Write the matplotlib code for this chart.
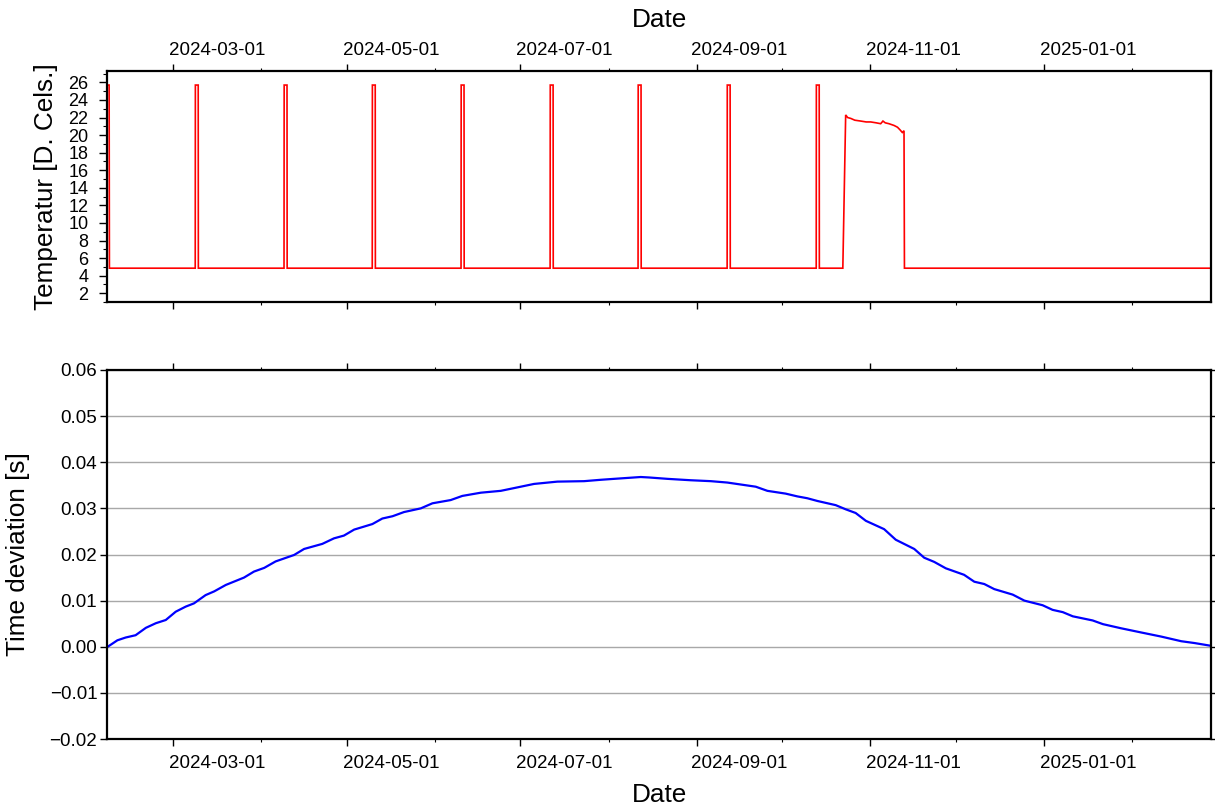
import matplotlib
matplotlib.use('Agg')
import matplotlib.pyplot as plt
import matplotlib.dates as mdates
import matplotlib.ticker as mticker
import numpy as np
import pandas as pd

plt.rcParams['font.family'] = ['Liberation Sans', 'DejaVu Sans']

# ---------------- data ----------------
START = pd.Timestamp('2024-02-07')
X_END = pd.Timestamp('2025-02-28 16:00')

# temperature: baseline, monthly short spikes, one long warm period
temp_base = 4.85
temp_spike_top = 25.7
first_spike_end = 0.5                      # series starts inside a spike (days since START)
spike_days = [31.3, 62.5, 93.5, 124.7, 156.0, 186.9, 218.2, 249.5]
spike_half_width = 0.5
plateau_day = [258.3, 259.3, 260.0, 261.1, 262.5, 264.6, 266.5, 268.1, 270.0, 271.6, 272.4,
               273.2, 274.5, 276.3, 277.5, 278.4, 279.2, 279.8]
plateau_val = [4.85, 22.3, 22.0, 21.9, 21.7, 21.6, 21.5, 21.5, 21.4, 21.3, 21.6, 21.4, 21.3,
               21.1, 20.9, 20.6, 20.3, 20.5]
temp_last_day = 387.7

# time deviation: days since START and seconds
dev_day = [0.0, 3.4, 6.3, 9.8, 13.4, 16.9, 20.4, 23.9, 27.4, 30.3, 34.4, 37.4, 41.5, 47.9,
           51.4, 55.0, 59.0, 65.5, 69.0, 75.4, 79.5, 83.0, 86.6, 93.0, 96.5, 100.1, 104.1,
           110.0, 114.1, 120.5, 124.6, 131.1, 138.1, 142.8, 149.8, 158.0, 167.4, 173.3,
           177.9, 187.3, 190.2, 196.7, 204.8, 211.9, 217.7, 227.7, 231.8, 238.2, 242.3,
           245.8, 249.4, 255.8, 259.3, 262.8, 266.4, 272.8, 276.9, 283.4, 286.9, 290.4,
           294.5, 300.9, 304.5, 308.0, 311.5, 318.0, 322.1, 328.5, 332.0, 335.6, 339.1,
           346.1, 349.7, 356.1, 363.1, 370.2, 377.2, 381.9, 387.7]
dev_val = [0.0000, 0.0014, 0.0020, 0.0025, 0.0041, 0.0051, 0.0058, 0.0076, 0.0087, 0.0094,
           0.0112, 0.0120, 0.0134, 0.0150, 0.0163, 0.0171, 0.0185, 0.0199, 0.0212, 0.0223,
           0.0235, 0.0241, 0.0254, 0.0266, 0.0278, 0.0283, 0.0292, 0.0300, 0.0311, 0.0318,
           0.0327, 0.0334, 0.0338, 0.0344, 0.0353, 0.0358, 0.0359, 0.0362, 0.0364, 0.0368,
           0.0367, 0.0364, 0.0361, 0.0359, 0.0356, 0.0347, 0.0338, 0.0332, 0.0326, 0.0322,
           0.0316, 0.0307, 0.0298, 0.0290, 0.0273, 0.0255, 0.0232, 0.0212, 0.0193, 0.0184,
           0.0170, 0.0156, 0.0141, 0.0136, 0.0125, 0.0113, 0.0100, 0.0090, 0.0080, 0.0075,
           0.0066, 0.0057, 0.0049, 0.0040, 0.0031, 0.0022, 0.0012, 0.0008, 0.0002]

label_months = ['2024-03-01', '2024-05-01', '2024-07-01', '2024-09-01', '2024-11-01', '2025-01-01']

# ---------------- build temperature series ----------------
t_days = [0.0, first_spike_end, first_spike_end + 0.1]
t_vals = [temp_spike_top, temp_spike_top, temp_base]
for c in spike_days:
    t_days += [c - spike_half_width - 0.05, c - spike_half_width, c + spike_half_width, c + spike_half_width + 0.05]
    t_vals += [temp_base, temp_spike_top, temp_spike_top, temp_base]
t_days += plateau_day + [plateau_day[-1] + 0.15, temp_last_day]
t_vals += plateau_val + [temp_base, temp_base]

t_dates = START + pd.to_timedelta(np.array(t_days), unit='D')
d_dates = START + pd.to_timedelta(np.array(dev_day), unit='D')

# ---------------- figure ----------------
W, H = 1215, 805
fig = plt.figure(figsize=(W / 100, H / 100), dpi=100)
L, R = 107, 1211
ax1 = fig.add_axes([L / W, 1 - 302 / H, (R - L) / W, (302 - 71) / H])
ax2 = fig.add_axes([L / W, 1 - 739 / H, (R - L) / W, (739 - 370) / H])

ax1.plot(t_dates, t_vals, color='#ff0000', lw=1.2, solid_joinstyle='miter')
ax2.plot(d_dates, dev_val, color='#0000ff', lw=1.6)

for ax in (ax1, ax2):
    ax.set_xlim(START - pd.Timedelta(hours=6), X_END)
    for s in ax.spines.values():
        s.set_linewidth(1.6)
    ax.xaxis.set_major_locator(mdates.MonthLocator(bymonth=[1, 3, 5, 7, 9, 11]))
    ax.xaxis.set_minor_locator(mdates.MonthLocator())
    ax.xaxis.set_major_formatter(mticker.NullFormatter())
    ax.tick_params(axis='x', which='major', direction='out', length=5, width=1, top=True, bottom=True)
    ax.tick_params(axis='x', which='minor', direction='out', length=2.5, width=0.8, top=True, bottom=True)

# top panel y
ax1.set_ylim(1.0, 27.3)
ax1.yaxis.set_major_locator(mticker.MultipleLocator(2))
ax1.yaxis.set_minor_locator(mticker.MultipleLocator(1))
ax1.tick_params(axis='y', which='major', direction='out', length=6, width=1, labelsize=13, pad=7.5, right=False)
ax1.tick_params(axis='y', which='minor', direction='out', length=3, width=0.8, right=False)
ax1.set_ylabel('Temperatur [D. Cels.]', fontsize=18.8, va='center')
ax1.yaxis.set_label_coords(-0.0555, 0.5)

# bottom panel y
ax2.set_ylim(-0.02, 0.06)
ax2.yaxis.set_major_locator(mticker.MultipleLocator(0.01))
ax2.yaxis.set_major_formatter(mticker.FuncFormatter(lambda v, p: f'{v:.2f}'.replace('-', '\u2212')))
ax2.yaxis.set_minor_locator(mticker.NullLocator())
ax2.tick_params(axis='y', which='major', direction='out', length=5, width=1, labelsize=13.5, pad=2, right=True)
ax2.grid(axis='y', color='#a8a8a8', lw=1.0)
ax2.set_axisbelow(True)
ax2.set_ylabel('Time deviation [s]', fontsize=18.8, va='center')
ax2.yaxis.set_label_coords(-0.0806, 0.5)

# date annotations centred in the month interval following each labelled month start
for m in label_months:
    d0 = pd.Timestamp(m)
    mid = d0 + (d0 + pd.offsets.MonthBegin(1) - d0) / 2
    ax1.text(mid, 1.09, m, transform=ax1.get_xaxis_transform(), ha='center', va='center', fontsize=13.5)
    ax2.text(mid, -0.0675, m, transform=ax2.get_xaxis_transform(), ha='center', va='center', fontsize=13.5)

ax1.set_xlabel('Date', fontsize=18.8)
ax1.xaxis.set_label_position('top')
ax1.xaxis.set_label_coords(0.5, 1.22)
ax1.xaxis.label.set_va('center')
ax2.set_xlabel('Date', fontsize=18.8)
ax2.xaxis.set_label_coords(0.5, -0.152)
ax2.xaxis.label.set_va('center')

fig.savefig('out.png', dpi=100)
